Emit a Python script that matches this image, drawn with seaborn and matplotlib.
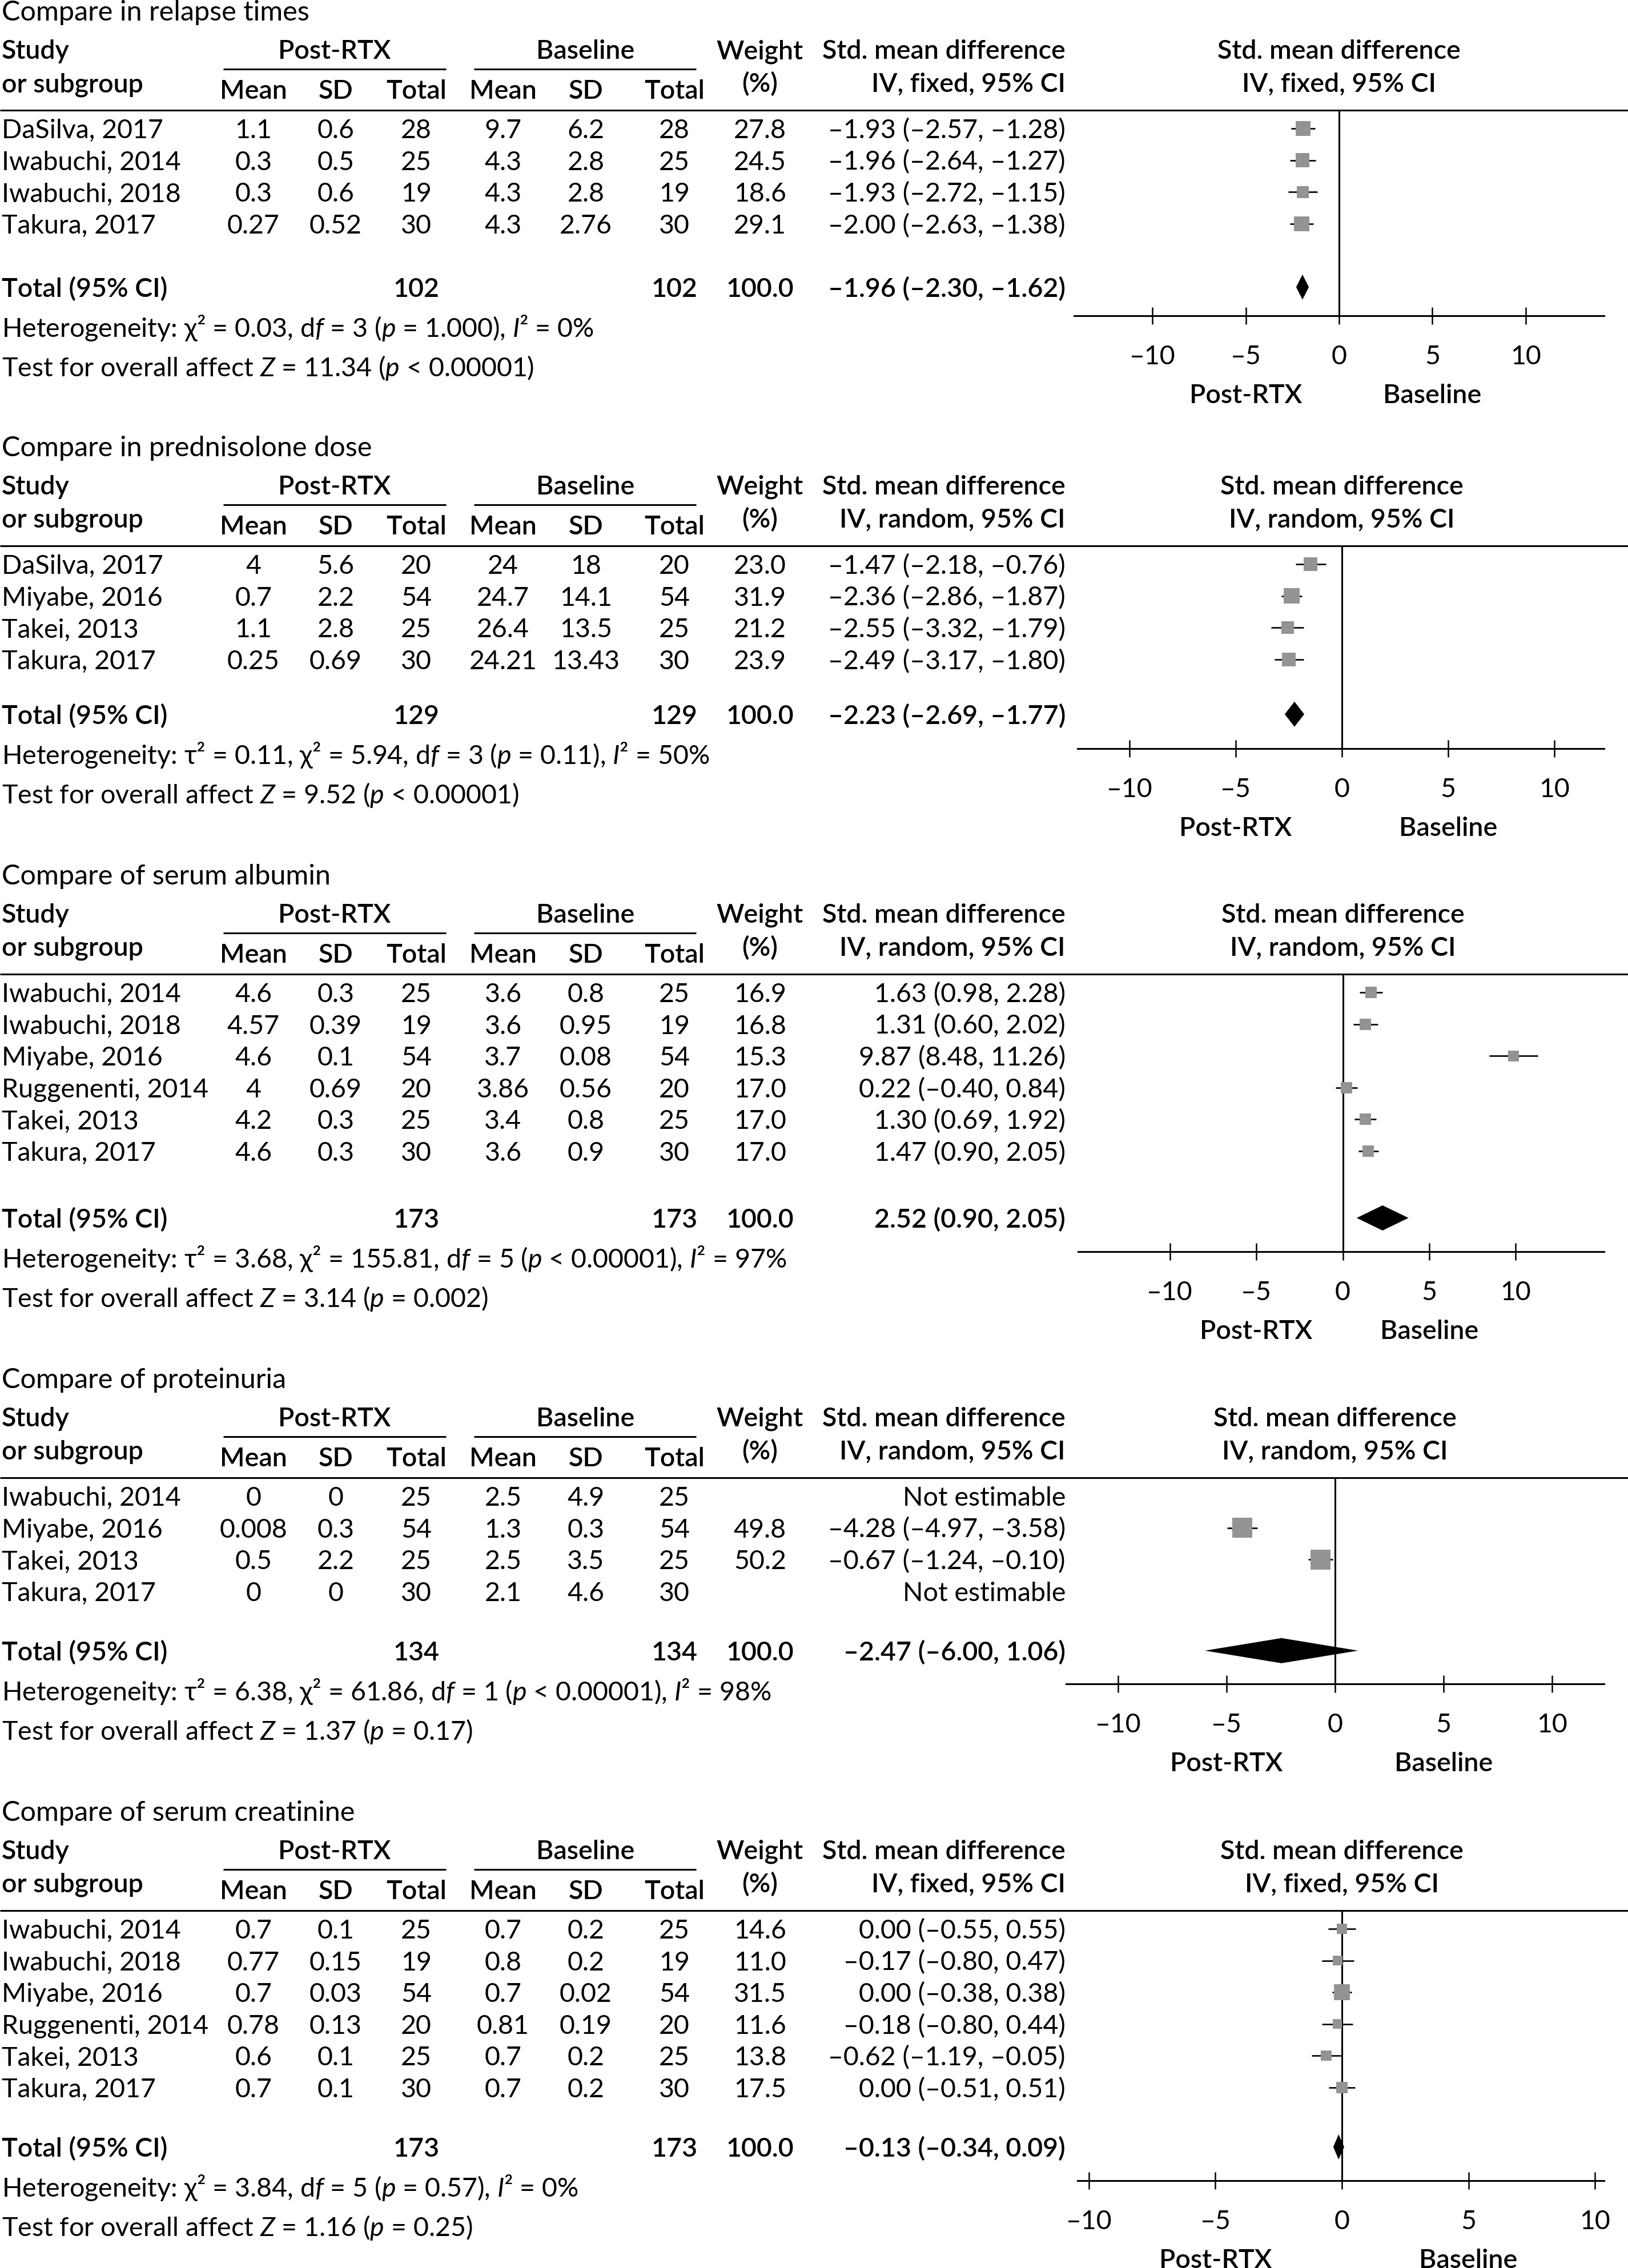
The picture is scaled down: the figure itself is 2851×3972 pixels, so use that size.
import matplotlib
matplotlib.use('Agg')
import matplotlib.pyplot as plt
import seaborn as sns

W, H = 2851, 3973

# ---------------- data ----------------
titles = ['Compare in relapse times', 'Compare in prednisolone dose', 'Compare of serum albumin',
          'Compare of proteinuria', 'Compare of serum creatinine']
models = ['fixed', 'random', 'random', 'random', 'fixed']

relapse_study = ['DaSilva, 2017', 'Iwabuchi, 2014', 'Iwabuchi, 2018', 'Takura, 2017']
relapse_post = [['1.1', '0.6', '28'], ['0.3', '0.5', '25'], ['0.3', '0.6', '19'], ['0.27', '0.52', '30']]
relapse_base = [['9.7', '6.2', '28'], ['4.3', '2.8', '25'], ['4.3', '2.8', '19'], ['4.3', '2.76', '30']]
relapse_weight = [27.8, 24.5, 18.6, 29.1]
relapse_smd = [-1.93, -1.96, -1.93, -2.00]
relapse_lo = [-2.57, -2.64, -2.72, -2.63]
relapse_hi = [-1.28, -1.27, -1.15, -1.38]
relapse_total = [102, 102]
relapse_pooled = [-1.96, -2.30, -1.62]

pred_study = ['DaSilva, 2017', 'Miyabe, 2016', 'Takei, 2013', 'Takura, 2017']
pred_post = [['4', '5.6', '20'], ['0.7', '2.2', '54'], ['1.1', '2.8', '25'], ['0.25', '0.69', '30']]
pred_base = [['24', '18', '20'], ['24.7', '14.1', '54'], ['26.4', '13.5', '25'], ['24.21', '13.43', '30']]
pred_weight = [23.0, 31.9, 21.2, 23.9]
pred_smd = [-1.47, -2.36, -2.55, -2.49]
pred_lo = [-2.18, -2.86, -3.32, -3.17]
pred_hi = [-0.76, -1.87, -1.79, -1.80]
pred_total = [129, 129]
pred_pooled = [-2.23, -2.69, -1.77]

alb_study = ['Iwabuchi, 2014', 'Iwabuchi, 2018', 'Miyabe, 2016', 'Ruggenenti, 2014', 'Takei, 2013', 'Takura, 2017']
alb_post = [['4.6', '0.3', '25'], ['4.57', '0.39', '19'], ['4.6', '0.1', '54'], ['4', '0.69', '20'],
            ['4.2', '0.3', '25'], ['4.6', '0.3', '30']]
alb_base = [['3.6', '0.8', '25'], ['3.6', '0.95', '19'], ['3.7', '0.08', '54'], ['3.86', '0.56', '20'],
            ['3.4', '0.8', '25'], ['3.6', '0.9', '30']]
alb_weight = [16.9, 16.8, 15.3, 17.0, 17.0, 17.0]
alb_smd = [1.63, 1.31, 9.87, 0.22, 1.30, 1.47]
alb_lo = [0.98, 0.60, 8.48, -0.40, 0.69, 0.90]
alb_hi = [2.28, 2.02, 11.26, 0.84, 1.92, 2.05]
alb_total = [173, 173]
alb_pooled = [2.52, 0.90, 2.05]
alb_diamond = [2.3, 0.8, 3.8]   # as drawn in the figure

prot_study = ['Iwabuchi, 2014', 'Miyabe, 2016', 'Takei, 2013', 'Takura, 2017']
prot_post = [['0', '0', '25'], ['0.008', '0.3', '54'], ['0.5', '2.2', '25'], ['0', '0', '30']]
prot_base = [['2.5', '4.9', '25'], ['1.3', '0.3', '54'], ['2.5', '3.5', '25'], ['2.1', '4.6', '30']]
prot_weight = [None, 49.8, 50.2, None]
prot_smd = [None, -4.28, -0.67, None]
prot_lo = [None, -4.97, -1.24, None]
prot_hi = [None, -3.58, -0.10, None]
prot_total = [134, 134]
prot_pooled = [-2.47, -6.00, 1.06]

crea_study = ['Iwabuchi, 2014', 'Iwabuchi, 2018', 'Miyabe, 2016', 'Ruggenenti, 2014', 'Takei, 2013', 'Takura, 2017']
crea_post = [['0.7', '0.1', '25'], ['0.77', '0.15', '19'], ['0.7', '0.03', '54'], ['0.78', '0.13', '20'],
             ['0.6', '0.1', '25'], ['0.7', '0.1', '30']]
crea_base = [['0.7', '0.2', '25'], ['0.8', '0.2', '19'], ['0.7', '0.02', '54'], ['0.81', '0.19', '20'],
             ['0.7', '0.2', '25'], ['0.7', '0.2', '30']]
crea_weight = [14.6, 11.0, 31.5, 11.6, 13.8, 17.5]
crea_smd = [0.00, -0.17, 0.00, -0.18, -0.62, 0.00]
crea_lo = [-0.55, -0.80, -0.38, -0.80, -1.19, -0.51]
crea_hi = [0.55, 0.47, 0.38, 0.44, -0.05, 0.51]
crea_total = [173, 173]
crea_pooled = [-0.13, -0.34, 0.09]

het_texts = [
    r'Heterogeneity: χ² = 0.03, d$\mathit{f}$ = 3 ($\mathit{p}$ = 1.000), $\mathit{I}$² = 0%',
    r'Heterogeneity: τ² = 0.11, χ² = 5.94, d$\mathit{f}$ = 3 ($\mathit{p}$ = 0.11), $\mathit{I}$² = 50%',
    r'Heterogeneity: τ² = 3.68, χ² = 155.81, d$\mathit{f}$ = 5 ($\mathit{p}$ < 0.00001), $\mathit{I}$² = 97%',
    r'Heterogeneity: τ² = 6.38, χ² = 61.86, d$\mathit{f}$ = 1 ($\mathit{p}$ < 0.00001), $\mathit{I}$² = 98%',
    r'Heterogeneity: χ² = 3.84, d$\mathit{f}$ = 5 ($\mathit{p}$ = 0.57), $\mathit{I}$² = 0%',
]
test_texts = [
    r'Test for overall affect $\mathit{Z}$ = 11.34 ($\mathit{p}$ < 0.00001)',
    r'Test for overall affect $\mathit{Z}$ = 9.52 ($\mathit{p}$ < 0.00001)',
    r'Test for overall affect $\mathit{Z}$ = 3.14 ($\mathit{p}$ = 0.002)',
    r'Test for overall affect $\mathit{Z}$ = 1.37 ($\mathit{p}$ = 0.17)',
    r'Test for overall affect $\mathit{Z}$ = 1.16 ($\mathit{p}$ = 0.25)',
]
tick_vals = [-10, -5, 0, 5, 10]
tick_labels = ['–10', '–5', '0', '5', '10']

sections = [
    dict(study=relapse_study, post=relapse_post, base=relapse_base, weight=relapse_weight, smd=relapse_smd,
         lo=relapse_lo, hi=relapse_hi, total=relapse_total, pooled=relapse_pooled, diamond=relapse_pooled),
    dict(study=pred_study, post=pred_post, base=pred_base, weight=pred_weight, smd=pred_smd,
         lo=pred_lo, hi=pred_hi, total=pred_total, pooled=pred_pooled, diamond=pred_pooled),
    dict(study=alb_study, post=alb_post, base=alb_base, weight=alb_weight, smd=alb_smd,
         lo=alb_lo, hi=alb_hi, total=alb_total, pooled=alb_pooled, diamond=alb_diamond),
    dict(study=prot_study, post=prot_post, base=prot_base, weight=prot_weight, smd=prot_smd,
         lo=prot_lo, hi=prot_hi, total=prot_total, pooled=prot_pooled, diamond=prot_pooled),
    dict(study=crea_study, post=crea_post, base=crea_base, weight=crea_weight, smd=crea_smd,
         lo=crea_lo, hi=crea_hi, total=crea_total, pooled=crea_pooled, diamond=crea_pooled),
]

# ---------------- layout (pixels) ----------------
sec_top = [20, 783, 1533, 2415, 3173]
total_gap = [111, 96, 117, 104, 104]
axis_gap = [50, 60, 59, 58, 59]
forest_left = [1881, 1887, 1888, 1867, 1887]
forest_xlim = [(-14.2, 14.2), (-12.45, 12.35), (-15.3, 15.1), (-12.4, 12.4), (-10.45, 10.36)]
FOREST_RIGHT = 2809
COLS = [444, 588, 729, 881, 1026, 1181]
WEIGHT_X = 1331
CI_RIGHT = 1866
ROW_STEP = 55.6
FS = 33.5
CAP = 16
LW = 2.2
BOLD = 'semibold'


def fmt(v):
    return f'{v:.2f}'.replace('-', '–')


def ci_text(est, lo, hi):
    return f'{fmt(est)} ({fmt(lo)}, {fmt(hi)})'


sns.set_style('white')
plt.rcParams['font.family'] = ['Lato', 'DejaVu Sans']
plt.rcParams['mathtext.fontset'] = 'custom'
plt.rcParams['mathtext.rm'] = 'Lato'
plt.rcParams['mathtext.it'] = 'Lato:italic'
plt.rcParams['mathtext.bf'] = 'Lato:bold'

fig = plt.figure(figsize=(W / 100, H / 100), dpi=100)
base = fig.add_axes([0, 0, 1, 1])
base.set_xlim(0, W)
base.set_ylim(H, 0)
base.axis('off')


def put(x, y, s, ha='left', bold=False, ax=base, size=FS):
    ax.text(x, y + CAP, s, ha=ha, va='baseline', fontsize=size,
            fontweight=BOLD if bold else 'normal', color='black')


for k, sec in enumerate(sections):
    T = sec_top[k]
    n = len(sec['study'])
    line_y = T + 174
    rows_y = [T + 206 + i * ROW_STEP for i in range(n)]
    total_y = rows_y[-1] + total_gap[k]
    axis_y = total_y + axis_gap[k]

    # table header
    put(3, T, titles[k], size=FS + 1.5)
    put(3, T + 67, 'Study', bold=True)
    put(586, T + 67, 'Post-RTX', 'center', True)
    put(1025, T + 67, 'Baseline', 'center', True)
    put(WEIGHT_X, T + 67, 'Weight', 'center', True)
    put(CI_RIGHT, T + 67, 'Std. mean difference', 'right', True)
    base.hlines(T + 102, 391, 781, color='black', lw=LW)
    base.hlines(T + 102, 830, 1219, color='black', lw=LW)
    put(3, T + 125, 'or subgroup', bold=True)
    for x, lab in zip(COLS, ['Mean', 'SD', 'Total'] * 2):
        put(x, T + 137, lab, 'center', True)
    put(WEIGHT_X, T + 125, '(%)', 'center', True)
    put(CI_RIGHT, T + 125, f'IV, {models[k]}, 95% CI', 'right', True)
    base.hlines(line_y, 0, W, color='black', lw=LW)

    # study rows
    for i in range(n):
        y = rows_y[i]
        put(3, y, sec['study'][i])
        for x, v in zip(COLS, sec['post'][i] + sec['base'][i]):
            put(x, y, v, 'center')
        if sec['weight'][i] is None:
            put(CI_RIGHT, y, 'Not estimable', 'right')
        else:
            put(WEIGHT_X, y, f"{sec['weight'][i]:.1f}", 'center')
            put(CI_RIGHT, y, ci_text(sec['smd'][i], sec['lo'][i], sec['hi'][i]), 'right')

    # total + footers
    put(3, total_y, 'Total (95% CI)', bold=True)
    put(COLS[2], total_y, str(sec['total'][0]), 'center', True)
    put(COLS[5], total_y, str(sec['total'][1]), 'center', True)
    put(WEIGHT_X, total_y, '100.0', 'center', True)
    put(CI_RIGHT, total_y, ci_text(*sec['pooled']), 'right', True)
    put(3, total_y + 70, het_texts[k])
    put(3, total_y + 139, test_texts[k])

    # forest plot
    left = forest_left[k]
    ax = fig.add_axes([left / W, 1 - axis_y / H, (FOREST_RIGHT - left) / W, (axis_y - line_y) / H])
    ax.patch.set_alpha(0)
    ax.set_xlim(*forest_xlim[k])
    ax.set_ylim(axis_y, line_y)
    sns.despine(ax=ax, left=True)
    ax.spines['bottom'].set_linewidth(LW)
    ax.spines['bottom'].set_color('black')
    ax.set_yticks([])
    ax.axvline(0, color='black', lw=LW, zorder=1)

    ok = [i for i in range(n) if sec['smd'][i] is not None]
    ys = [rows_y[i] for i in ok]
    ax.hlines(ys, [sec['lo'][i] for i in ok], [sec['hi'][i] for i in ok], color='black', lw=1.9, zorder=2)
    sns.scatterplot(x=[sec['smd'][i] for i in ok], y=ys, s=[12.4 * sec['weight'][i] for i in ok],
                    marker='s', color='#939393', linewidth=0, ax=ax, zorder=3, legend=False)
    est, dlo, dhi = sec['diamond']
    ax.fill([dlo, est, dhi, est], [total_y, total_y - 22, total_y, total_y + 22], color='black', lw=0, zorder=4)

    ax.set_xticks(tick_vals)
    ax.set_xticklabels(tick_labels)
    ax.tick_params(axis='x', direction='inout', length=21.6, width=1.8, pad=25, labelsize=FS,
                   colors='black', bottom=True)
    ax.set_xlabel('')
    ax.set_ylabel('')

    put(0, T + 67, 'Std. mean difference', 'center', True, ax=ax)
    put(0, T + 125, f'IV, {models[k]}, 95% CI', 'center', True, ax=ax)
    put(-5, axis_y + 136, 'Post-RTX', 'center', True, ax=ax)
    put(5, axis_y + 136, 'Baseline', 'center', True, ax=ax)

fig.savefig('out.png', dpi=100, facecolor='white')
